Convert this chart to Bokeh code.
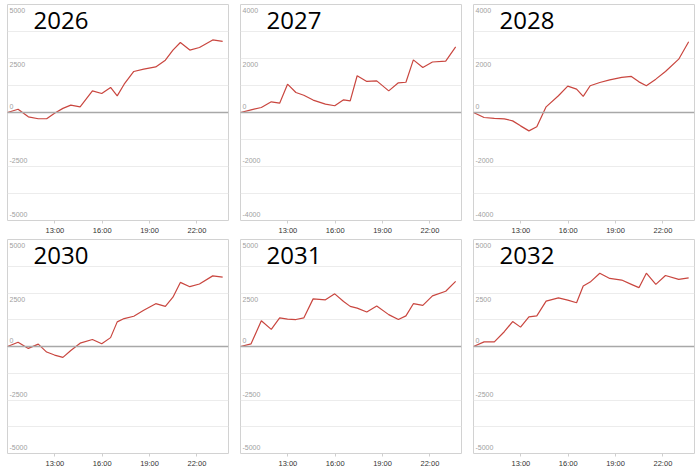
from bokeh.plotting import figure
from bokeh.layouts import column, row
from bokeh.models import FixedTicker, Span, Range1d
from bokeh.core.properties import value
from bokeh.embed import file_html
from bokeh.resources import INLINE

# ---- data ----
titles = ["2026", "2027", "2028", "2030", "2031", "2032"]
times = [10.0, 10.67, 11.32, 11.95, 12.48, 12.98, 13.51, 14.01, 14.6, 15.38, 15.97, 16.53,
         16.95, 17.39, 18.0, 18.63, 19.39, 20.0, 20.48, 20.95, 21.55, 22.16, 23.0, 23.63]
v2026 = [0, 150, -200, -290, -290, -30, 190, 340, 260, 1000, 880, 1160,
         770, 1310, 1900, 2010, 2110, 2420, 2890, 3240, 2890, 3010, 3360, 3290]
v2027 = [0, 100, 185, 395, 345, 1050, 740, 640, 460, 310, 250, 470,
         430, 1360, 1150, 1170, 800, 1100, 1120, 1950, 1670, 1870, 1900, 2430]
v2028 = [0, -185, -220, -235, -310, -495, -680, -530, 210, 620, 975, 865,
         595, 990, 1110, 1210, 1300, 1335, 1135, 990, 1235, 1520, 1975, 2620]
v2030 = [0, 200, -90, 110, -260, -400, -510, -185, 155, 325, 125, 415,
         1150, 1305, 1415, 1690, 2000, 1875, 2305, 2995, 2795, 2920, 3300, 3240]
v2031 = [0, 125, 1200, 800, 1335, 1275, 1260, 1335, 2225, 2180, 2460, 2105,
         1875, 1795, 1615, 1890, 1490, 1260, 1430, 2000, 1920, 2365, 2580, 3040]
v2032 = [0, 215, 215, 690, 1165, 905, 1380, 1430, 2120, 2275, 2165, 2045,
         2825, 3010, 3425, 3180, 3105, 2905, 2750, 3425, 2905, 3320, 3135, 3210]
series = [v2026, v2027, v2028, v2030, v2031, v2032]
y_limits = [5000, 4000, 4000, 5000, 5000, 5000]
x_start, x_end = 10, 24
x_tick_hours = [13, 16, 19, 22]
x_tick_labels = ["13:00", "16:00", "19:00", "22:00"]

LINE = "#c9463f"
FRAME_W, FRAME_H = 221, 216
BORDERS_LR = [(7, 11), (1, 11), (1, 5)]
BORDERS_TB = [(4, 18), (1, 15)]


def make_panel(title, vals, lim, col_i, row_i):
    bl, br = BORDERS_LR[col_i]
    bt, bb = BORDERS_TB[row_i]
    p = figure(width=bl + FRAME_W + br, height=bt + FRAME_H + bb,
               min_border_left=bl, min_border_right=br,
               min_border_top=bt, min_border_bottom=bb,
               x_range=Range1d(x_start, x_end), y_range=Range1d(-lim, lim),
               output_backend="svg", toolbar_location=None,
               background_fill_color="white", border_fill_color="white")
    p.outline_line_color = "#d2d2d2"
    p.outline_line_width = 1
    p.yaxis.visible = False
    p.xgrid.visible = False
    p.ygrid.ticker = FixedTicker(ticks=[lim * k / 4 for k in range(-4, 5)])
    p.ygrid.grid_line_color = "#ececec"
    p.ygrid.grid_line_width = 1

    ax = p.xaxis[0]
    ax.ticker = FixedTicker(ticks=x_tick_hours)
    ax.major_label_overrides = {h: lab for h, lab in zip(x_tick_hours, x_tick_labels)}
    ax.axis_line_color = None
    ax.major_tick_in = 0
    ax.major_tick_out = 3
    ax.major_tick_line_color = "#cfcfcf"
    ax.minor_tick_line_color = None
    ax.major_label_text_font = "Liberation Sans"
    ax.major_label_text_font_size = "7.5px"
    ax.major_label_text_color = "#333333"
    ax.major_label_standoff = 2

    p.add_layout(Span(location=0, dimension="width", line_color="#a8a8a8", line_width=1.5))

    p.line(times, vals, line_color=LINE, line_width=1.2)

    # y labels inside plot area
    pos = [lim, lim / 2]
    neg = [0, -lim / 2, -lim]
    p.text(x=[x_start] * len(pos), y=pos, text=[str(int(v)) for v in pos],
           x_offset=2, y_offset=6, text_align="left", text_baseline="middle",
           text_font=value("Liberation Sans"), text_font_size="7px", text_color="#a0a0a0")
    p.text(x=[x_start] * len(neg), y=neg, text=[str(int(v)) for v in neg],
           x_offset=2, y_offset=-6, text_align="left", text_baseline="middle",
           text_font=value("Liberation Sans"), text_font_size="7px", text_color="#a0a0a0")

    # panel title
    p.text(x=[x_start], y=[lim], text=[title], x_offset=26, y_offset=16,
           text_align="left", text_baseline="middle",
           text_font=value("Open Sans"), text_font_size="24px", text_color="black")
    return p


panels = [make_panel(t, v, l, i % 3, i // 3)
          for i, (t, v, l) in enumerate(zip(titles, series, y_limits))]
layout = column(row(*panels[:3]), row(*panels[3:]))

open("out.html", "w").write(file_html(layout, INLINE))
